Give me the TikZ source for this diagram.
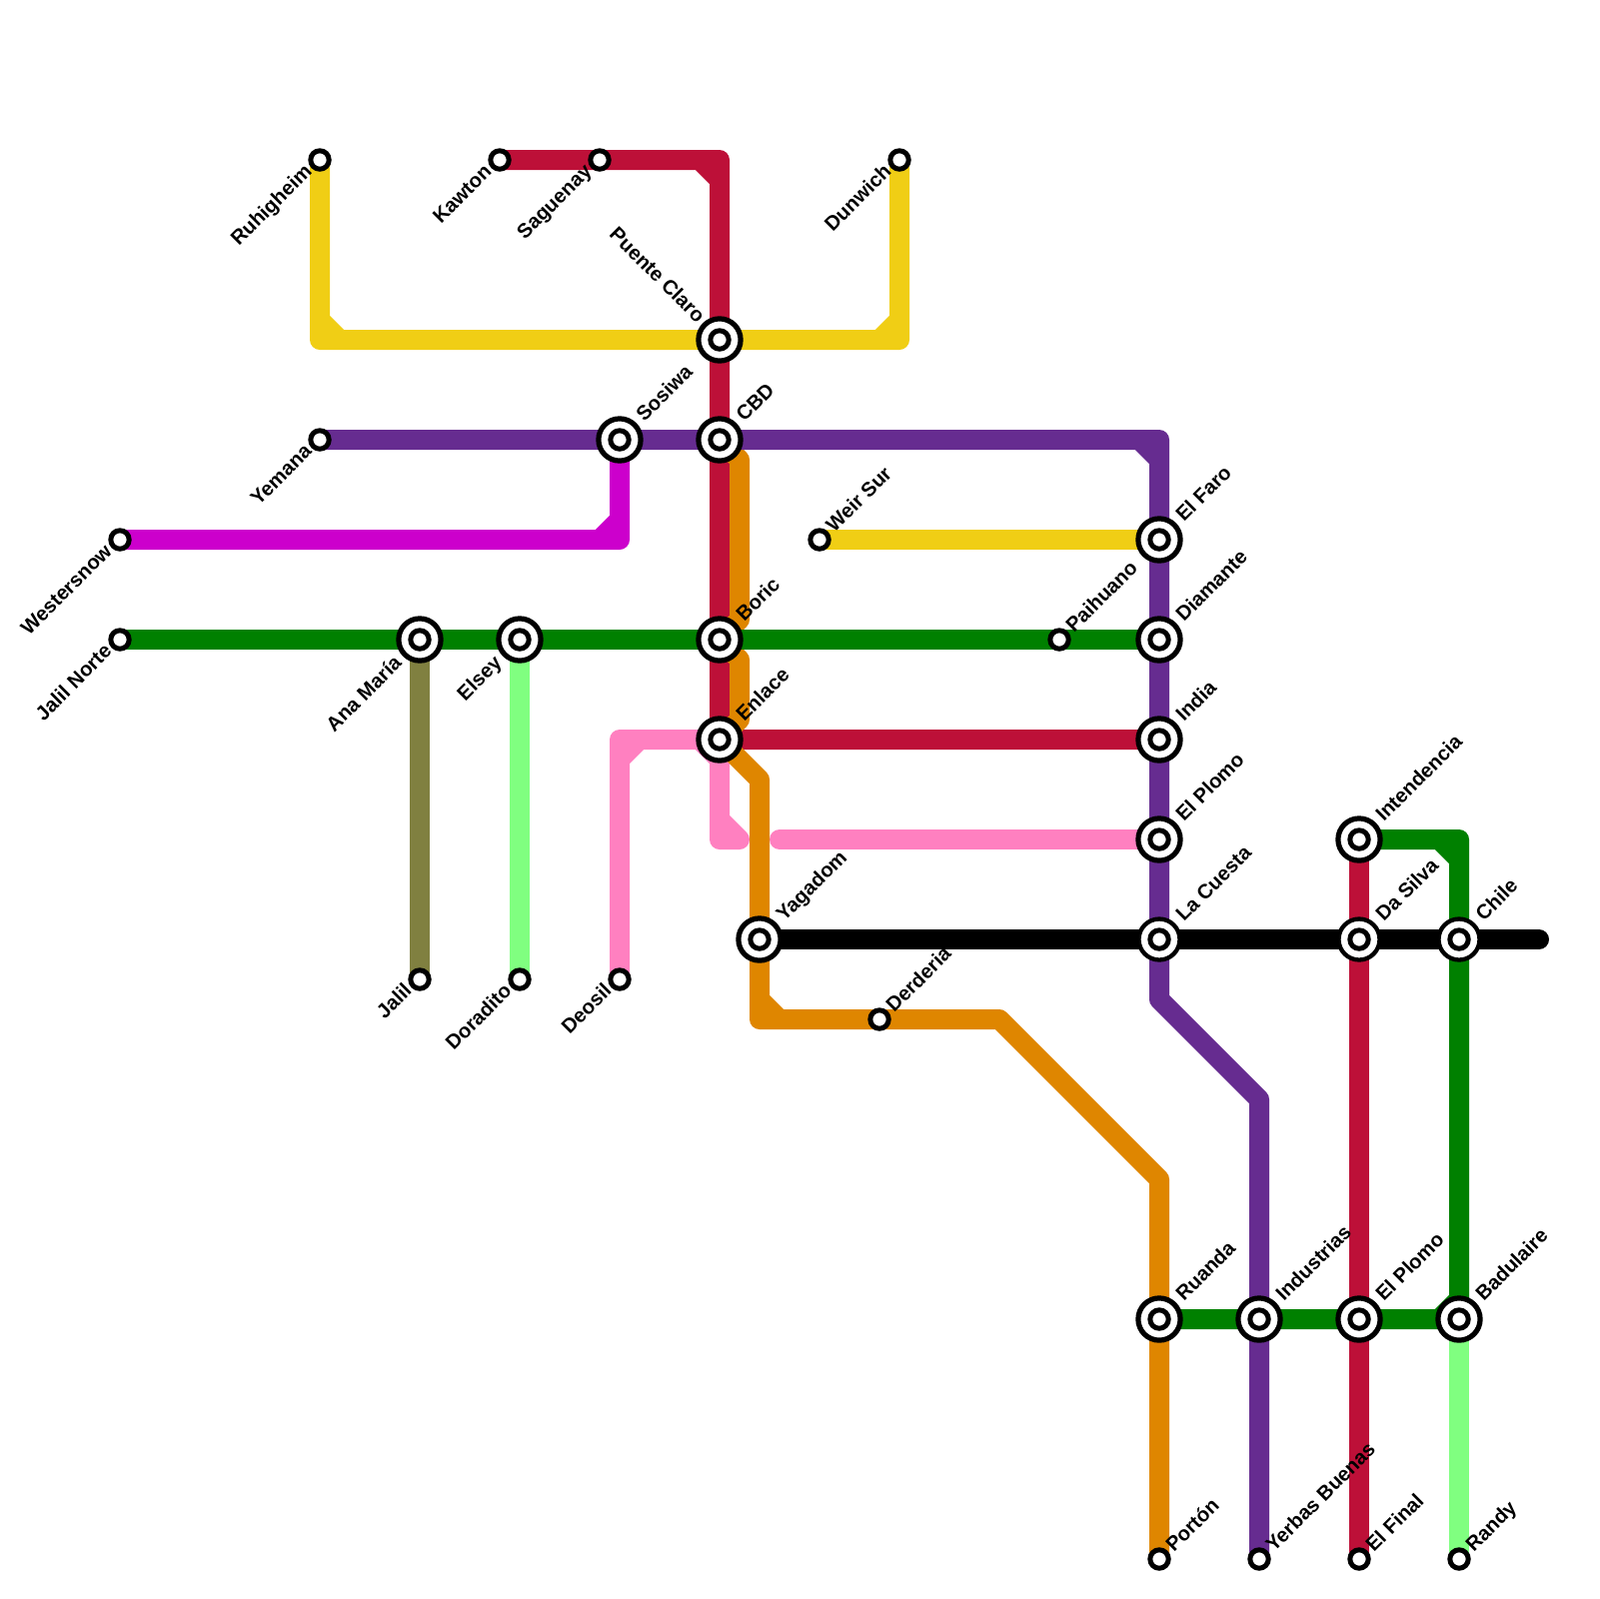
\documentclass[tikz,border=0pt]{standalone}
\usepackage{fontspec}
\setmainfont{Liberation Sans}
\pgfdeclarelayer{lines}
\pgfsetlayers{lines,main}
\definecolor{cyel}{HTML}{F0CE15}
\definecolor{cred}{HTML}{BD1038}
\definecolor{cpur}{HTML}{662C90}
\definecolor{cora}{HTML}{DF8600}
\definecolor{cpin}{HTML}{FF80C0}
\definecolor{cmag}{HTML}{CC00CC}
\definecolor{cgre}{HTML}{008000}
\definecolor{coli}{HTML}{808040}
\definecolor{clig}{HTML}{80FF80}
\tikzset{
  route/.style={line width=2mm,line cap=round,line join=round},
  stopring/.style={circle,draw=black,fill=white,line width=.5mm,minimum size=1.84mm,inner sep=0pt,outer sep=0pt},
  hubring/.style={circle,draw=black,fill=white,line width=.52mm,minimum size=4.22mm,inner sep=0pt,outer sep=0pt},
  thinhubring/.style={circle,draw=black,fill=white,line width=.43mm,minimum size=4.1mm,inner sep=0pt,outer sep=0pt},
  lbl/.style={font=\fontsize{5.75}{6.8}\selectfont\bfseries,inner sep=0pt,outer sep=0pt,text height=.72em,text depth=0pt,text=black},
  ne/.style={lbl,rotate=45,anchor=west},
  sw/.style={lbl,rotate=45,anchor=east},
  nw/.style={lbl,rotate=-45,anchor=east},
}
\newcommand{\stopst}[3]{\node[stopring] (#1) at (#2,#3) {};}
\newcommand{\hubst}[3]{\node[hubring] (#1) at (#2,#3) {};\node[stopring] (#1-c) at (#1.center) {};}
\newcommand{\thinhubst}[3]{\node[thinhubring] (#1) at (#2,#3) {};\node[stopring] (#1-c) at (#1.center) {};}
\newcommand{\lab}[5]{\node[#3] (#1-l) at ([shift={(#4,#5)}]#1.center) {#2};}
\begin{document}
\begin{tikzpicture}[x=.1mm,y=-.1mm]
\useasboundingbox (0,0) rectangle (1600,1600);
% stations
\stopst{ruhigheim}{320}{160}
\stopst{kawton}{500}{160}
\stopst{saguenay}{600}{160}
\stopst{dunwich}{900}{160}
\stopst{yemana}{320}{440}
\stopst{westersnow}{120}{540}
\stopst{jalilnorte}{120}{640}
\stopst{jalil}{420}{980}
\stopst{doradito}{520}{980}
\stopst{deosil}{620}{980}
\stopst{weirsur}{820}{540}
\stopst{derderia}{880}{1020}
\stopst{paihuano}{1060}{640}
\stopst{porton}{1160}{1560}
\stopst{yerbas}{1260}{1560}
\stopst{elfinal}{1360}{1560}
\stopst{randy}{1460}{1560}
\hubst{puente}{720}{340}
\hubst{sosiwa}{620}{440}
\hubst{cbd}{720}{440}
\hubst{boric}{720}{640}
\hubst{enlace}{720}{740}
\hubst{yagadom}{760}{940}
\hubst{elfaro}{1160}{540}
\hubst{diamante}{1160}{640}
\hubst{india}{1160}{740}
\hubst{elplomoa}{1160}{840}
\thinhubst{lacuesta}{1160}{940}
\hubst{intendencia}{1360}{840}
\thinhubst{dasilva}{1360}{940}
\thinhubst{chile}{1460}{940}
\hubst{ruanda}{1160}{1320}
\hubst{industrias}{1260}{1320}
\hubst{elplomob}{1360}{1320}
\hubst{badulaire}{1460}{1320}
\hubst{anamaria}{420}{640}
\hubst{elsey}{520}{640}
\coordinate (blackend) at (1540,940);
% lines
\begin{pgfonlayer}{lines}
\draw[route,coli] (anamaria.center)--(jalil.center);
\draw[route,clig] (elsey.center)--(doradito.center);
\draw[route,clig] (badulaire.center)--(randy.center);
\draw[route,cmag] (westersnow.center)--(620,540)--(sosiwa.center) (600,540)--(620,520);
\draw[route,cpin] (deosil.center)--(620,740)--(enlace.center)--(720,840)--(740,840)
  (620,760)--(640,740) (700,740)--(720,760) (720,820)--(740,840);
\draw[route,cpin] (780,840)--(elplomoa.center);
\draw[route,cyel] (ruhigheim.center)--(320,340)--(900,340)--(dunwich.center)
  (320,320)--(340,340) (880,340)--(900,320);
\draw[route,cyel] (weirsur.center)--(elfaro.center);
\draw[route,cred] (kawton.center)--(720,160)--(enlace.center)--(india.center) (700,160)--(720,180);
\draw[route,cred] (intendencia.center)--(elfinal.center);
\draw[route,cora] (cbd.center)--(740,460)--(740,620)--(boric.center);
\draw[route,cora] (boric.center)--(740,660)--(740,720)--(enlace.center)--(760,780)--(760,1020)--(1000,1020)--(1160,1180)--(porton.center)
  (760,1000)--(780,1020);
\draw[route,cpur] (yemana.center)--(1160,440)--(1160,1000)--(1260,1100)--(yerbas.center) (1140,440)--(1160,460);
\draw[route,cgre] (jalilnorte.center)--(diamante.center);
\draw[route,cgre] (intendencia.center)--(1460,840)--(1460,1320)--(ruanda.center)
  (1440,840)--(1460,860) (1460,1300)--(1440,1320);
\lab{derderia}{Derderia}{ne}{6}{-15}
\draw[route,black] (yagadom.center)--(blackend);
\end{pgfonlayer}
% labels
\lab{ruhigheim}{Ruhigheim}{sw}{-16}{4}
\lab{kawton}{Kawton}{sw}{-16}{4}
\lab{saguenay}{Saguenay}{sw}{-16}{4}
\lab{dunwich}{Dunwich}{sw}{-16}{4}
\lab{yemana}{Yemana}{sw}{-16}{4}
\lab{westersnow}{Westersnow}{sw}{-16}{4}
\lab{jalilnorte}{Jalil Norte}{sw}{-16}{4}
\lab{jalil}{Jalil}{sw}{-16}{4}
\lab{doradito}{Doradito}{sw}{-16}{4}
\lab{deosil}{Deosil}{sw}{-16}{4}
\lab{anamaria}{Ana María}{sw}{-26}{16}
\lab{elsey}{Elsey}{sw}{-26}{16}
\lab{puente}{Puente Claro}{nw}{-14}{-25}
\lab{weirsur}{Weir Sur}{ne}{6}{-15}
\lab{paihuano}{Paihuano}{ne}{6}{-15}
\lab{porton}{Portón}{ne}{6}{-15}
\lab{yerbas}{Yerbas Buenas}{ne}{6}{-15}
\lab{elfinal}{El Final}{ne}{6}{-15}
\lab{randy}{Randy}{ne}{6}{-15}
\lab{sosiwa}{Sosiwa}{ne}{16}{-26}
\lab{cbd}{CBD}{ne}{16}{-26}
\lab{boric}{Boric}{ne}{16}{-26}
\lab{enlace}{Enlace}{ne}{16}{-26}
\lab{yagadom}{Yagadom}{ne}{16}{-26}
\lab{elfaro}{El Faro}{ne}{16}{-26}
\lab{diamante}{Diamante}{ne}{16}{-26}
\lab{india}{India}{ne}{16}{-26}
\lab{elplomoa}{El Plomo}{ne}{16}{-26}
\lab{lacuesta}{La Cuesta}{ne}{16}{-26}
\lab{intendencia}{Intendencia}{ne}{16}{-26}
\lab{dasilva}{Da Silva}{ne}{16}{-26}
\lab{chile}{Chile}{ne}{16}{-26}
\lab{ruanda}{Ruanda}{ne}{16}{-26}
\lab{industrias}{Industrias}{ne}{16}{-26}
\lab{elplomob}{El Plomo}{ne}{16}{-26}
\lab{badulaire}{Badulaire}{ne}{16}{-26}
\end{tikzpicture}
\end{document}
